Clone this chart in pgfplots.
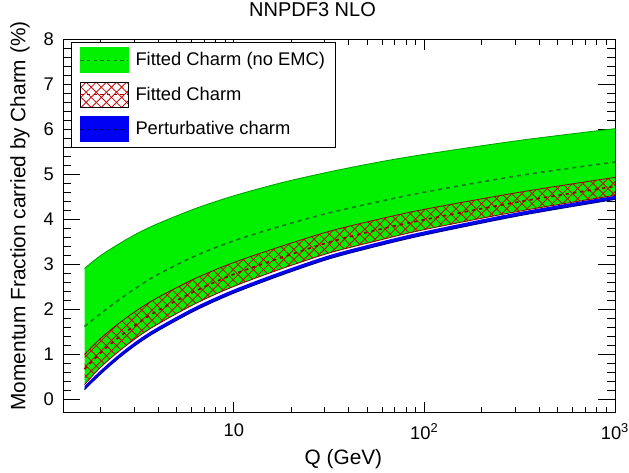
\documentclass[border=0pt]{standalone}
\usepackage{fontspec}
\setmainfont{Liberation Sans}
\usepackage{pgfplots}
\usepackage{pgfplotstable}
\pgfplotsset{compat=1.18}
\usepgfplotslibrary{fillbetween}
\usetikzlibrary{patterns.meta}
\definecolor{fgreen}{RGB}{0,240,0}
\definecolor{dgreen}{RGB}{20,130,20}
\definecolor{egreen}{RGB}{0,160,0}
\definecolor{hred}{RGB}{200,10,10}
\definecolor{dred}{RGB}{150,0,0}
\definecolor{bblue}{RGB}{0,0,245}
\definecolor{nblue}{RGB}{0,0,130}
\pgfplotstableread{
Q      gu   gm   fu   fm   fl   bu   bl
1.648  2.91 1.62 1.00 0.67 0.33 0.30 0.22
1.995  3.19 1.90 1.35 1.03 0.71 0.64 0.56
2.512  3.46 2.22 1.70 1.39 1.08 1.01 0.93
3.162  3.70 2.51 2.00 1.70 1.40 1.33 1.25
3.981  3.90 2.77 2.26 1.97 1.67 1.60 1.52
6.310  4.24 3.19 2.69 2.41 2.13 2.06 1.98
10     4.52 3.52 3.04 2.78 2.51 2.44 2.36
17.78  4.81 3.85 3.40 3.15 2.90 2.84 2.76
31.62  5.05 4.14 3.73 3.49 3.25 3.20 3.12
56.23  5.26 4.38 3.99 3.76 3.52 3.48 3.40
100    5.44 4.60 4.22 3.99 3.77 3.73 3.65
316.2  5.75 4.97 4.60 4.39 4.18 4.16 4.08
1000   6.01 5.27 4.93 4.73 4.53 4.52 4.44
}\data
\begin{document}
\begin{tikzpicture}
\begin{axis}[
  scale only axis, width=331.2pt, height=224.4pt,
  xmode=log, log basis x=10, xmin=1.27, xmax=1000, ymin=-0.3, ymax=8,
  xtick={10,100,1000}, xticklabels={10,10\textsuperscript{2},10\textsuperscript{3}},
  minor xtick={2,3,...,9,20,30,...,90,200,300,...,900},
  ytick={0,1,...,8}, minor y tick num=4,
  tick align=inside, xtick pos=both, ytick pos=both,
  xtick style={/pgfplots/major tick length=6.6pt, /pgfplots/minor tick length=3.6pt},
  ytick style={/pgfplots/major tick length=10pt, /pgfplots/minor tick length=5pt},
  every tick/.append style={black, line width=0.5pt},
  axis line style={line width=0.6pt},
  /pgf/number format/assume math mode=true,
  ticklabel style={font=\fontsize{11}{12}\selectfont},
  yticklabel style={xshift=-2pt},
  xticklabel style={yshift=-3pt},
  xlabel={Q (GeV)}, ylabel={Momentum Fraction carried by Charm (\%)},
  xlabel style={at={(axis description cs:0.508,-0.123)}, anchor=center, font=\fontsize{12.5}{14}\selectfont},
  ylabel style={at={(axis description cs:-0.078,0.527)}, anchor=center, rotate=0, font=\fontsize{12.5}{14}\selectfont},
  title={NNPDF3 NLO},
  title style={at={(axis description cs:0.452,1.053)}, anchor=center, yshift=0pt, font=\fontsize{12}{14}\selectfont},
  legend style={at={(axis description cs:0.0145,0.992)}, anchor=north west, draw=black, line width=0.6pt, fill=white,
    font=\fontsize{11}{13}\selectfont, row sep=5pt, inner xsep=5pt, inner ysep=3pt,
    nodes={inner sep=1.5pt},
    /tikz/every odd column/.append style={column sep=2.5pt}},
  legend cell align=left,
]
% paths
\addplot[name path=gu, draw=none, smooth, forget plot] table[x=Q,y=gu]{\data};
\addplot[name path=fu, draw=none, smooth, forget plot] table[x=Q,y=fu]{\data};
\addplot[name path=fl, draw=none, smooth, forget plot] table[x=Q,y=fl]{\data};
\addplot[name path=bu, draw=none, smooth, forget plot] table[x=Q,y=bu]{\data};
\addplot[name path=bl, draw=none, smooth, forget plot] table[x=Q,y=bl]{\data};
% green band
\addplot[fgreen, draw=none, forget plot] fill between[of=gu and fl];
\addplot[egreen, line width=0.5pt, smooth, forget plot] table[x=Q,y=gu]{\data};
\addplot[dgreen, line width=1pt, dash pattern=on 2.4pt off 2.4pt, smooth, forget plot] table[x=Q,y=gm]{\data};
% fitted charm hatch
\addplot[draw=none, pattern={Lines[angle=45,distance=4.3pt,line width=0.5pt]}, pattern color=hred, forget plot] fill between[of=fu and fl];
\addplot[draw=none, pattern={Lines[angle=-45,distance=4.3pt,line width=0.5pt]}, pattern color=hred, forget plot] fill between[of=fu and fl];
\addplot[dred, line width=0.5pt, smooth, forget plot] table[x=Q,y=fu]{\data};
\addplot[dred, line width=0.5pt, smooth, forget plot] table[x=Q,y=fl]{\data};
\addplot[dred, line width=1pt, dash pattern=on 2pt off 2.4pt, smooth, forget plot] table[x=Q,y=fm]{\data};
% perturbative
\addplot[bblue, draw=none, forget plot] fill between[of=bu and bl];
\addplot[nblue, line width=0.6pt, smooth, forget plot] table[x=Q,y=bl]{\data};
% legend
\addlegendimage{legend image code/.code={
  \fill[fgreen] (0pt,-7.5pt) rectangle (28.8pt,7.5pt);
  \draw[dgreen, line width=0.6pt, dash pattern=on 2pt off 2pt] (0pt,0pt) -- (28.8pt,0pt);}}
\addlegendentry{Fitted Charm (no EMC)\hspace{7pt}}
\addlegendimage{legend image code/.code={
  \fill[pattern={Lines[angle=45,distance=4.3pt,line width=0.5pt]}, pattern color=hred] (0pt,-7.5pt) rectangle (28.8pt,7.5pt);
  \fill[pattern={Lines[angle=-45,distance=4.3pt,line width=0.5pt]}, pattern color=hred] (0pt,-7.5pt) rectangle (28.8pt,7.5pt);
  \draw[dred, line width=0.6pt, dash pattern=on 2pt off 2pt] (0pt,0pt) -- (28.8pt,0pt);}}
\addlegendentry{Fitted Charm}
\addlegendimage{legend image code/.code={
  \fill[bblue] (0pt,-7.5pt) rectangle (28.8pt,7.5pt);
  \draw[nblue!60!black, line width=0.6pt, dash pattern=on 2pt off 2pt] (0pt,0pt) -- (28.8pt,0pt);}}
\addlegendentry{Perturbative charm}
\end{axis}
\pgfresetboundingbox
\path ([shift={(-37.8pt,-35.6pt)}]current axis.south west) rectangle ([shift={(8.4pt,23.4pt)}]current axis.north east);
\end{tikzpicture}
\end{document}
